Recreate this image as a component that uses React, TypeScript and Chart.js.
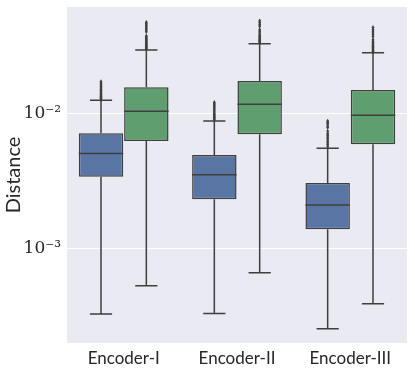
import React, { useEffect, useRef } from "react";
import { Chart, registerables } from "chart.js";
Chart.register(...registerables);

const categories = ["Encoder-I", "Encoder-II", "Encoder-III"];
const yTicks = [0.001, 0.01];
const yTickLabels = ["10⁻³", "10⁻²"];

// series 1 (blue)
const blueMin = [0.000324, 0.000326, 0.000251];
const blueQ1 = [0.0034, 0.00231, 0.00138];
const blueMedian = [0.00505, 0.00352, 0.00209];
const blueQ3 = [0.00715, 0.00493, 0.00305];
const blueMax = [0.0126, 0.00883, 0.00553];
const blueOutliers = [
  [0.0128, 0.013, 0.0132, 0.0134, 0.0136, 0.0139, 0.0142, 0.0145, 0.0148, 0.0151, 0.0155, 0.0159, 0.0163, 0.0168, 0.0173],
  [0.009, 0.0092, 0.0094, 0.0096, 0.0098, 0.01, 0.0103, 0.0106, 0.0109, 0.0112, 0.0115, 0.0118, 0.0121],
  [0.0057, 0.0059, 0.0061, 0.0063, 0.0065, 0.0067, 0.0069, 0.0071, 0.0074, 0.0079, 0.0081, 0.0084, 0.0086, 0.0088],
];

// series 2 (green)
const greenMin = [0.000526, 0.000655, 0.000385];
const greenQ1 = [0.00626, 0.00703, 0.00592];
const greenMedian = [0.0104, 0.01175, 0.00973];
const greenQ3 = [0.0157, 0.0175, 0.015];
const greenMax = [0.0298, 0.0331, 0.0284];
const greenOutliers = [
  [0.0302, 0.0306, 0.031, 0.0315, 0.032, 0.0325, 0.033, 0.0336, 0.0342, 0.0348, 0.0355, 0.0362, 0.037, 0.0378, 0.0407, 0.0418, 0.043, 0.0442, 0.0455, 0.0466, 0.0478],
  [0.0336, 0.0342, 0.0348, 0.0355, 0.0362, 0.037, 0.0378, 0.0385, 0.0398, 0.041, 0.0422, 0.0446, 0.046, 0.0475, 0.049],
  [0.0288, 0.0293, 0.0298, 0.0304, 0.031, 0.0316, 0.0322, 0.0329, 0.0336, 0.0345, 0.0355, 0.0375, 0.039, 0.0405, 0.042, 0.0438],
];

const blueFill = "#5975a4";
const greenFill = "#5f9e6e";
const lineColor = "#3f3f3f";

const stats = [
  { min: blueMin, q1: blueQ1, med: blueMedian, q3: blueQ3, max: blueMax, out: blueOutliers },
  { min: greenMin, q1: greenQ1, med: greenMedian, q3: greenQ3, max: greenMax, out: greenOutliers },
];

const boxPlugin = {
  id: "boxExtras",
  beforeDraw(chart: any) {
    const { ctx, chartArea } = chart;
    ctx.save();
    ctx.fillStyle = "#eaeaf2";
    ctx.fillRect(chartArea.left, chartArea.top, chartArea.right - chartArea.left, chartArea.bottom - chartArea.top);
    ctx.restore();
  },
  afterDatasetsDraw(chart: any) {
    const { ctx } = chart;
    const ys = chart.scales.y;
    ctx.save();
    ctx.strokeStyle = lineColor;
    ctx.lineWidth = 1.5;
    stats.forEach((s, di) => {
      const meta = chart.getDatasetMeta(di);
      meta.data.forEach((el: any, j: number) => {
        const { x, width } = el.getProps(["x", "width"], true);
        const half = width / 2;
        const yq1 = ys.getPixelForValue(s.q1[j]);
        const yq3 = ys.getPixelForValue(s.q3[j]);
        const ymed = ys.getPixelForValue(s.med[j]);
        const ymin = ys.getPixelForValue(s.min[j]);
        const ymax = ys.getPixelForValue(s.max[j]);
        ctx.beginPath();
        ctx.moveTo(x, yq3);
        ctx.lineTo(x, ymax);
        ctx.moveTo(x, yq1);
        ctx.lineTo(x, ymin);
        ctx.moveTo(x - half / 2, ymax);
        ctx.lineTo(x + half / 2, ymax);
        ctx.moveTo(x - half / 2, ymin);
        ctx.lineTo(x + half / 2, ymin);
        ctx.moveTo(x - half, ymed);
        ctx.lineTo(x + half, ymed);
        ctx.stroke();
        ctx.fillStyle = lineColor;
        s.out[j].forEach((v: number) => {
          const py = ys.getPixelForValue(v);
          const r = 2.4;
          ctx.beginPath();
          ctx.moveTo(x, py - r);
          ctx.lineTo(x + r * 0.6, py);
          ctx.lineTo(x, py + r);
          ctx.lineTo(x - r * 0.6, py);
          ctx.closePath();
          ctx.fill();
        });
      });
    });
    ctx.restore();
  },
};

export default function App() {
  const ref = useRef<HTMLCanvasElement>(null);
  useEffect(() => {
    document.body.style.margin = "0";
    const chart = new Chart(ref.current!, {
      type: "bar",
      data: {
        labels: categories,
        datasets: [
          {
            label: "blue",
            data: categories.map((_, i) => [blueQ1[i], blueQ3[i]]) as any,
            backgroundColor: blueFill,
            borderColor: lineColor,
            borderWidth: 1.5,
            borderSkipped: false,
          },
          {
            label: "green",
            data: categories.map((_, i) => [greenQ1[i], greenQ3[i]]) as any,
            backgroundColor: greenFill,
            borderColor: lineColor,
            borderWidth: 1.5,
            borderSkipped: false,
          },
        ],
      },
      options: {
        responsive: false,
        animation: false,
        categoryPercentage: 0.8,
        barPercentage: 0.98,
        layout: { padding: { top: 7, right: 8, left: 0, bottom: 0 } },
        plugins: { legend: { display: false }, tooltip: { enabled: false } },
        scales: {
          x: {
            grid: { display: false, drawTicks: false },
            border: { display: false },
            ticks: { color: "#262626", font: { family: "Lato", size: 17 }, padding: 5 },
            afterFit(scale: any) {
              scale.height = 31;
              scale.paddingLeft = 0;
              scale.paddingRight = 0;
            },
          },
          y: {
            type: "logarithmic",
            min: 0.000197,
            max: 0.0621,
            grid: { color: "#ffffff", lineWidth: 1, drawTicks: false },
            border: { display: false },
            ticks: {
              color: "#262626",
              font: { family: "DejaVu Serif", size: 17 },
              padding: 6,
              callback: (v: any) => {
                const i = yTicks.findIndex((t) => Math.abs(t - v) / t < 1e-6);
                return i >= 0 ? yTickLabels[i] : "";
              },
            },
            afterBuildTicks(scale: any) {
              scale.ticks = yTicks.map((v) => ({ value: v }));
            },
            afterFit(scale: any) {
              scale.width = 67;
              scale.paddingTop = 0;
              scale.paddingBottom = 0;
            },
            title: {
              display: true,
              text: "Distance",
              color: "#262626",
              font: { family: "Lato", size: 20 },
              padding: { top: 2, bottom: 0 },
            },
          },
        },
      },
      plugins: [boxPlugin],
    });
    return () => chart.destroy();
  }, []);
  return <canvas ref={ref} width={415} height={374} />;
}
